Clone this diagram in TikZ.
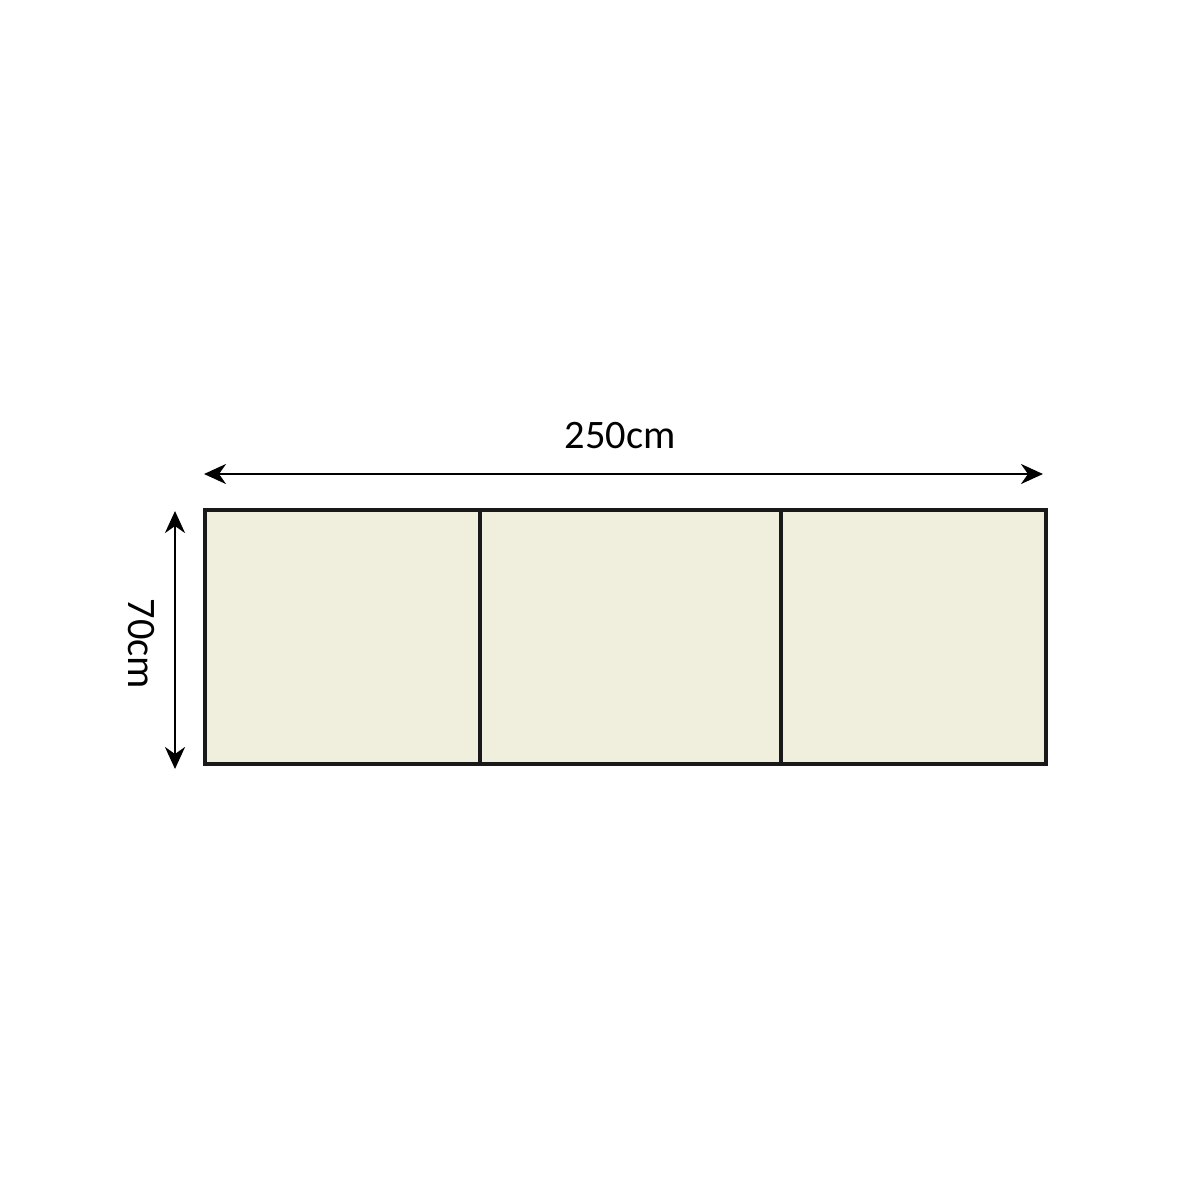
\documentclass[tikz,border=0pt]{standalone}
\usepackage{fontspec}
\setmainfont{Carlito}
\usetikzlibrary{arrows.meta, positioning}
\definecolor{panelfill}{HTML}{F0EEDC}
\tikzstyle{panel}=[draw=black!90,fill=panelfill,line width=0.9pt,minimum height=2.54cm,inner sep=0pt,outer sep=0pt]
\tikzstyle{dim}=[black,line width=0.75pt,{Stealth[length=2.2mm,width=2.0mm,inset=0.7mm]}-{Stealth[length=2.2mm,width=2.0mm,inset=0.7mm]}]
\tikzstyle{lbl}=[font=\fontsize{11.5}{13}\selectfont,inner sep=0pt]

\begin{document}
\begin{tikzpicture}[x=1cm,y=-1cm]
	\useasboundingbox[fill=white] (0,0) rectangle (12,12);
	% the three panels
	\node[panel,minimum width=2.75cm,anchor=north west] (leftp) at (2.05,5.10) {};
	\node[panel,minimum width=3.01cm,right=0pt of leftp] (midp) {};
	\node[panel,minimum width=2.65cm,right=0pt of midp] (rightp) {};
	% dimensions
	\coordinate (wa) at (2.04,4.74);
	\coordinate (ea) at (10.43,4.74);
	\coordinate (na) at (1.75,5.11);
	\coordinate (sa) at (1.75,7.69);
	\draw[dim] (wa) -- (ea);
	\draw[dim] (na) -- (sa);
	\node[lbl] (wlbl) at (6.20,4.36) {250cm};
	\node[lbl,rotate=-90] (hlbl) at (1.41,6.44) {70cm};
\end{tikzpicture}
\end{document}
